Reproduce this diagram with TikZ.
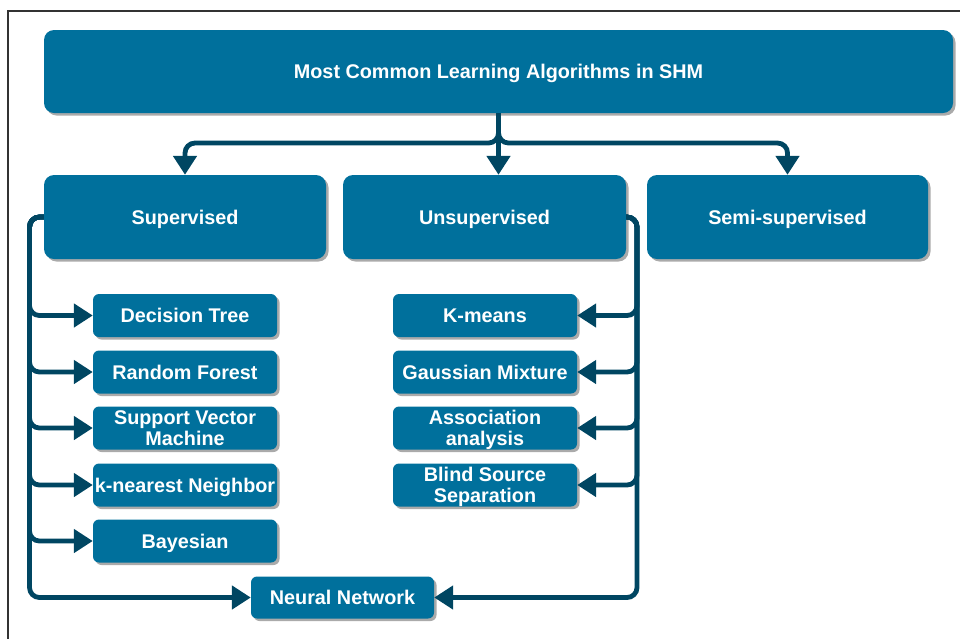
\documentclass[tikz,border=0pt]{standalone}
\usepackage{fontspec}
\setmainfont{Liberation Sans}
\usetikzlibrary{arrows.meta,shadows}
\definecolor{boxblue}{RGB}{0,112,156}
\definecolor{linedark}{RGB}{0,70,98}
\definecolor{shadowgray}{RGB}{170,170,170}
\begin{document}
\begin{tikzpicture}[x=1pt,y=-1pt,
  box/.style={rectangle, fill=boxblue, text=white, inner sep=0pt, text depth=0pt,
    font=\fontsize{19.8}{21.5}\selectfont\bfseries, align=center,
    drop shadow={shadow xshift=2.5pt, shadow yshift=-2.5pt, fill=shadowgray, opacity=1}},
  bigbox/.style={box, rounded corners=10pt},
  smallbox/.style={box, rounded corners=6pt, minimum width=184pt, minimum height=43pt},
  conn/.style={draw=linedark, line width=4.8pt, rounded corners=10pt},
  arr/.style={conn, -{Triangle[width=23pt,length=19pt]}}
]
\useasboundingbox (0,0) rectangle (960,638);
\draw[line width=1.3pt, draw=black!80] (8,700) -- (8,11) -- (1000,11);

\node[bigbox, minimum width=909pt, minimum height=83pt] (top) at (498.5,71.5) {Most Common Learning Algorithms in SHM};
\node[bigbox, minimum width=282pt, minimum height=84pt] (sup) at (185,217) {Supervised};
\node[bigbox, minimum width=283pt, minimum height=84pt] (uns) at (484.5,217) {Unsupervised};
\node[bigbox, minimum width=281pt, minimum height=84pt] (semi) at (787.5,217) {Semi-supervised};

\node[smallbox] (dt) at (185,315.5) {Decision Tree};
\node[smallbox] (rf) at (185,372) {Random Forest};
\node[smallbox] (svm) at (185,428) {Support Vector\\Machine};
\node[smallbox] (knn) at (185,485) {k-nearest Neighbor};
\node[smallbox] (bay) at (185,541) {Bayesian};

\node[smallbox] (km) at (485,315.5) {K-means};
\node[smallbox] (gm) at (485,372) {Gaussian Mixture};
\node[smallbox] (aa) at (485,428) {Association\\analysis};
\node[smallbox] (bss) at (485,485) {Blind Source\\Separation};

\node[smallbox, minimum width=183pt, minimum height=42pt] (nn) at (342.5,597.5) {Neural Network};

% top connectors
\coordinate (split) at (498.5,143);
\draw[arr] (top.south) -- (split) -| (sup.north);
\draw[arr] (top.south) -- (split) -| (semi.north);
\draw[arr] (top.south) -- (top.south |- uns.north);

% left trunk
\coordinate (lt) at (29.5,217);
\foreach \c in {dt,rf,svm,knn,bay,nn}{
  \draw[arr] (sup.west) -- (lt) |- (\c.west);
}
% right trunk
\coordinate (rt) at (637,217);
\foreach \c in {km,gm,aa,bss,nn}{
  \draw[arr] (uns.east) -- (rt) |- (\c.east);
}
\end{tikzpicture}
\end{document}
